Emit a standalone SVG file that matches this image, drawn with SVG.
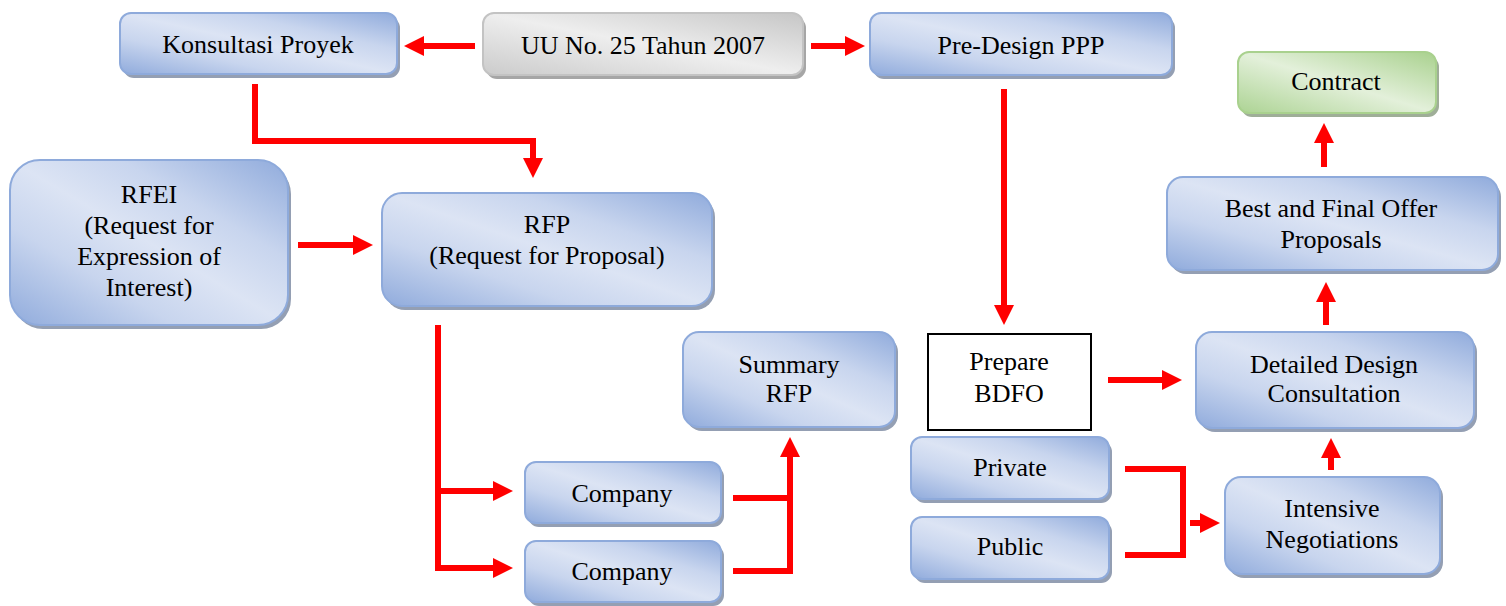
<svg xmlns="http://www.w3.org/2000/svg" width="1506" height="606" viewBox="0 0 1506 606">
<style>
.blue{fill:url(#gBlue);stroke:#8eaadb;stroke-width:2}
.grey{fill:url(#gGrey);stroke:#c3c3c3;stroke-width:2}
.green{fill:url(#gGreen);stroke:#a9d18e;stroke-width:2}
.plain{fill:#ffffff;stroke:#000000;stroke-width:2}
.sh{fill:#949fb3}
.shg{fill:#a6a6a6}
.shgr{fill:#9fae98}
text{font-family:"Liberation Serif","Times New Roman",serif;font-size:26px;fill:#000;text-anchor:middle}
.c{fill:none;stroke:#ff0000;stroke-width:6;stroke-linejoin:miter}
.a{marker-end:url(#ah)}
</style>
<defs>
<linearGradient id="gBlue" x1="0" y1="1" x2="1" y2="0">
<stop offset="0" stop-color="#90abdc"/>
<stop offset="0.3" stop-color="#c8d5ee"/>
<stop offset="0.5" stop-color="#dce4f4"/>
<stop offset="0.7" stop-color="#c8d5ee"/>
<stop offset="1" stop-color="#90abdc"/>
</linearGradient>
<linearGradient id="gGrey" x1="0" y1="1" x2="1" y2="0">
<stop offset="0" stop-color="#cbcbcb"/>
<stop offset="0.5" stop-color="#eeeeee"/>
<stop offset="1" stop-color="#c6c6c6"/>
</linearGradient>
<linearGradient id="gGreen" x1="0" y1="1" x2="1" y2="0">
<stop offset="0" stop-color="#acd393"/>
<stop offset="0.5" stop-color="#e3f0da"/>
<stop offset="1" stop-color="#a9d18e"/>
</linearGradient>
<marker id="ah" markerUnits="userSpaceOnUse" markerWidth="20" markerHeight="20" refX="0" refY="10" orient="auto">
<path d="M0,0 L20,10 L0,20 Z" fill="#ff0000"/>
</marker>
</defs>

<g id="connectors">
<path class="c a" d="M475,46 H424"/>
<path class="c a" d="M811,46 H845"/>
<path class="c a" d="M255,84 V141 H533 V158"/>
<path class="c a" d="M298,245 H353"/>
<path class="c a" d="M438,325 V568 H493"/>
<path class="c a" d="M435,491 H493"/>
<path class="c" d="M733,498 H790"/>
<path class="c a" d="M733,571 H790 V457"/>
<path class="c a" d="M1004,89 V305"/>
<path class="c a" d="M1108,380 H1162"/>
<path class="c" d="M1125,469 H1183 V555 H1125"/>
<path class="c a" d="M1190,523 H1200"/>
<path class="c a" d="M1331,470 V458"/>
<path class="c a" d="M1326,325 V302"/>
<path class="c a" d="M1324,167 V143"/>
</g>

<g id="n-konsultasi">
<rect class="sh" x="123" y="17" width="277" height="61" rx="11"/>
<rect class="blue" x="120" y="13" width="277" height="61" rx="11"/>
<text x="258" y="53">Konsultasi Proyek</text>
</g>
<g id="n-uu">
<rect class="shg" x="486" y="17" width="320" height="62" rx="11"/>
<rect class="grey" x="483" y="13" width="320" height="62" rx="11"/>
<text x="643" y="54">UU No. 25 Tahun 2007</text>
</g>
<g id="n-predesign">
<rect class="sh" x="873" y="17" width="302" height="62" rx="11"/>
<rect class="blue" x="870" y="13" width="302" height="62" rx="11"/>
<text x="1021" y="54">Pre-Design PPP</text>
</g>
<g id="n-contract">
<rect class="shgr" x="1241" y="56" width="198" height="61" rx="11"/>
<rect class="green" x="1238" y="52" width="198" height="61" rx="11"/>
<text x="1336" y="90">Contract</text>
</g>
<g id="n-rfei">
<rect class="sh" x="13" y="164" width="278" height="165" rx="30"/>
<rect class="blue" x="10" y="160" width="278" height="165" rx="30"/>
<text x="149" y="203">RFEI</text>
<text x="149" y="234">(Request for</text>
<text x="149" y="265">Expression of</text>
<text x="149" y="296">Interest)</text>
</g>
<g id="n-rfp">
<rect class="sh" x="385" y="197" width="330" height="113" rx="20"/>
<rect class="blue" x="382" y="193" width="330" height="113" rx="20"/>
<text x="547" y="233">RFP</text>
<text x="547" y="264">(Request for Proposal)</text>
</g>
<g id="n-summary">
<rect class="sh" x="686" y="336" width="212" height="95" rx="16"/>
<rect class="blue" x="683" y="332" width="212" height="95" rx="16"/>
<text x="789" y="373">Summary</text>
<text x="789" y="402">RFP</text>
</g>
<g id="n-company1">
<rect class="sh" x="528" y="466" width="196" height="61" rx="11"/>
<rect class="blue" x="525" y="462" width="196" height="61" rx="11"/>
<text x="622" y="502">Company</text>
</g>
<g id="n-company2">
<rect class="sh" x="528" y="545" width="196" height="61" rx="11"/>
<rect class="blue" x="525" y="541" width="196" height="61" rx="11"/>
<text x="622" y="580">Company</text>
</g>
<g id="n-prepare">
<rect class="plain" x="928" y="334" width="163" height="96"/>
<text x="1009" y="370">Prepare</text>
<text x="1009" y="402">BDFO</text>
</g>
<g id="n-private">
<rect class="sh" x="914" y="441" width="198" height="62" rx="11"/>
<rect class="blue" x="911" y="437" width="198" height="62" rx="11"/>
<text x="1010" y="476">Private</text>
</g>
<g id="n-public">
<rect class="sh" x="914" y="521" width="198" height="62" rx="11"/>
<rect class="blue" x="911" y="517" width="198" height="62" rx="11"/>
<text x="1010" y="555">Public</text>
</g>
<g id="n-detailed">
<rect class="sh" x="1199" y="336" width="278" height="96" rx="16"/>
<rect class="blue" x="1196" y="332" width="278" height="96" rx="16"/>
<text x="1334" y="373">Detailed Design</text>
<text x="1334" y="402">Consultation</text>
</g>
<g id="n-intensive">
<rect class="sh" x="1228" y="481" width="215" height="97" rx="16"/>
<rect class="blue" x="1225" y="477" width="215" height="97" rx="16"/>
<text x="1332" y="517">Intensive</text>
<text x="1332" y="548">Negotiations</text>
</g>
<g id="n-best">
<rect class="sh" x="1170" y="181" width="331" height="93" rx="16"/>
<rect class="blue" x="1167" y="177" width="331" height="93" rx="16"/>
<text x="1331" y="217">Best and Final Offer</text>
<text x="1331" y="248">Proposals</text>
</g>
</svg>
